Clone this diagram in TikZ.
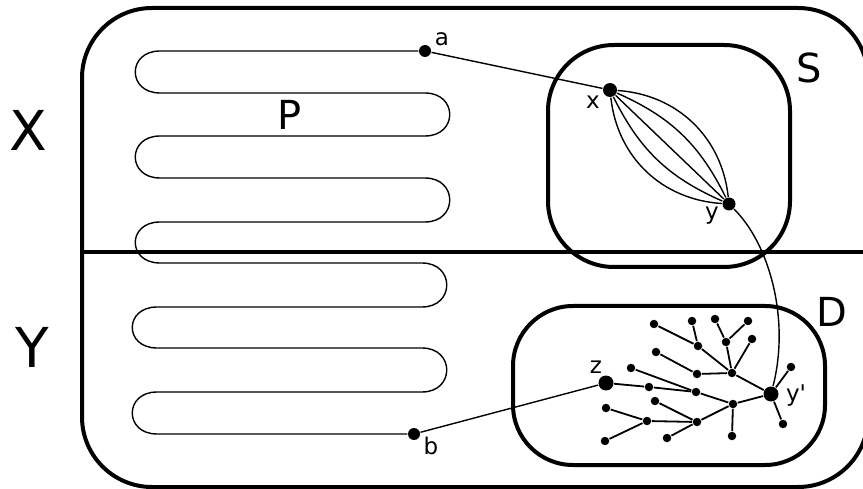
\documentclass[tikz,border=0pt]{standalone}
\usepackage{fontspec}
\setmainfont{DejaVu Sans}[Ligatures=TeXOff]

\tikzset{
  region/.style={draw, line width=4pt, rounded corners=#1},
  dot/.style={circle, fill, inner sep=0pt, minimum size=8.5pt},
  bigdot/.style={circle, fill, inner sep=0pt, minimum size=14pt},
  branch/.style={line width=1.8pt},
  huge letter/.style={inner sep=0pt, font=\fontsize{55}{60}\selectfont},
  set letter/.style={inner sep=0pt, font=\fontsize{40}{44}\selectfont},
  small letter/.style={inner sep=0pt, font=\fontsize{23}{26}\selectfont}
}

\begin{document}
\begin{tikzpicture}[x=1pt, y=-1pt, line width=1.4pt]
\useasboundingbox (0,0) rectangle (863,489);
\clip (0,0) rectangle (863,489);

% regions
\draw[region=70] (82,8) rectangle (868,487);
\draw[line width=4pt] (82,252) -- (868,252);
\draw[region=66] (548,45) rectangle (790,267);
\draw[region=60] (513,306) rectangle (825,465);

\node (X) at (28,130) [huge letter] {X};
\node (Y) at (32,347) [huge letter] {Y};
\node (P) at (290,115) [set letter] {P};
\node (S) at (809,68) [set letter] {S};
\node (D) at (832,312) [set letter] {D};

% the long path P from a to b
\node (a) at (425,51) [bigdot, minimum size=12pt] {};
\node (b) at (414,434) [bigdot, minimum size=12pt] {};
\node (la) at (442,39) [small letter] {a};
\node (lb) at (431,446) [small letter] {b};
\draw (a) -- (160,51) .. controls (127,51) and (127,93) .. (160,93)
  -- (425,93) .. controls (458,93) and (458,136) .. (425,136)
  -- (160,136) .. controls (127,136) and (127,178) .. (160,178)
  -- (425,178) .. controls (458,178) and (458,222) .. (425,222)
  -- (160,222) .. controls (127,222) and (127,263) .. (160,263)
  -- (422,263) .. controls (455,263) and (455,307) .. (422,307)
  -- (157,307) .. controls (124,307) and (124,348) .. (157,348)
  -- (422,348) .. controls (455,348) and (455,392) .. (422,392)
  -- (157,392) .. controls (124,392) and (124,434) .. (157,434) -- (b);

% inside S
\node (x) at (610,90) [bigdot] {};
\node (y) at (729,204) [bigdot, minimum size=13pt] {};
\node (lx) at (593,102) [small letter] {x};
\node (ly) at (712,216) [small letter] {y};
\draw (a) -- (x);
\draw (x) -- (y);
\draw (x) to[bend left=20] (y);
\draw (x) to[bend left=40] (y);
\draw (x) to[bend right=20] (y);
\draw (x) to[bend right=40] (y);

% tree inside D
\node (yp) at (771,394) [bigdot, minimum size=15pt] {};
\node (lyp) at (796,396) [small letter] {y'};
	\node (t10) at (732,373) [dot] {} edge[branch] (yp);
	\node (t15) at (733,404) [dot] {} edge[branch] (yp);
	\node (t14) at (791,367) [dot] {} edge[branch] (yp);
	\node (t23) at (783,424) [dot] {} edge[branch] (yp);
		\node (t5) at (698,346) [dot] {} edge[branch] (t10);
		\node (t6) at (726,342) [dot] {} edge[branch] (t10);
		\node (t7) at (752,339) [dot] {} edge[branch] (t10);
		\node (t9) at (697,374) [dot] {} edge[branch] (t10);
			\node (t1) at (654,324) [dot] {} edge[branch] (t5);
			\node (t2) at (692,321) [dot] {} edge[branch] (t5);
			\node (t3) at (715,319) [dot] {} edge[branch] (t6);
			\node (t4) at (748,321) [dot] {} edge[branch] (t6);
			\node (t8) at (656,352) [dot] {} edge[branch] (t9);
		\node (t13) at (696,392) [dot] {} edge[branch] (t15);
		\node (t19) at (697,422) [dot] {} edge[branch] (t15);
		\node (t22) at (732,436) [dot] {} edge[branch] (t15);
			\node (t12) at (649,387) [dot] {} edge[branch] (t13);
			\node (t11) at (631,368) [dot] {} edge[branch] (t13);
			\node (z) at (606,383) [bigdot, minimum size=15pt] {} edge[branch] (t12);
			\node (t16) at (655,401) [dot] {} edge[branch] (t19);
			\node (t18) at (647,421) [dot] {} edge[branch] (t19);
			\node (t21) at (667,438) [dot] {} edge[branch] (t19);
				\node (t17) at (606,408) [dot] {} edge[branch] (t18);
				\node (t20) at (605,441) [dot] {} edge[branch] (t18);
\node (lz) at (596,367) [small letter] {z};

\draw (b) -- (z);
\draw (y) .. controls (770,245) and (790,320) .. (yp);
\end{tikzpicture}
\end{document}
